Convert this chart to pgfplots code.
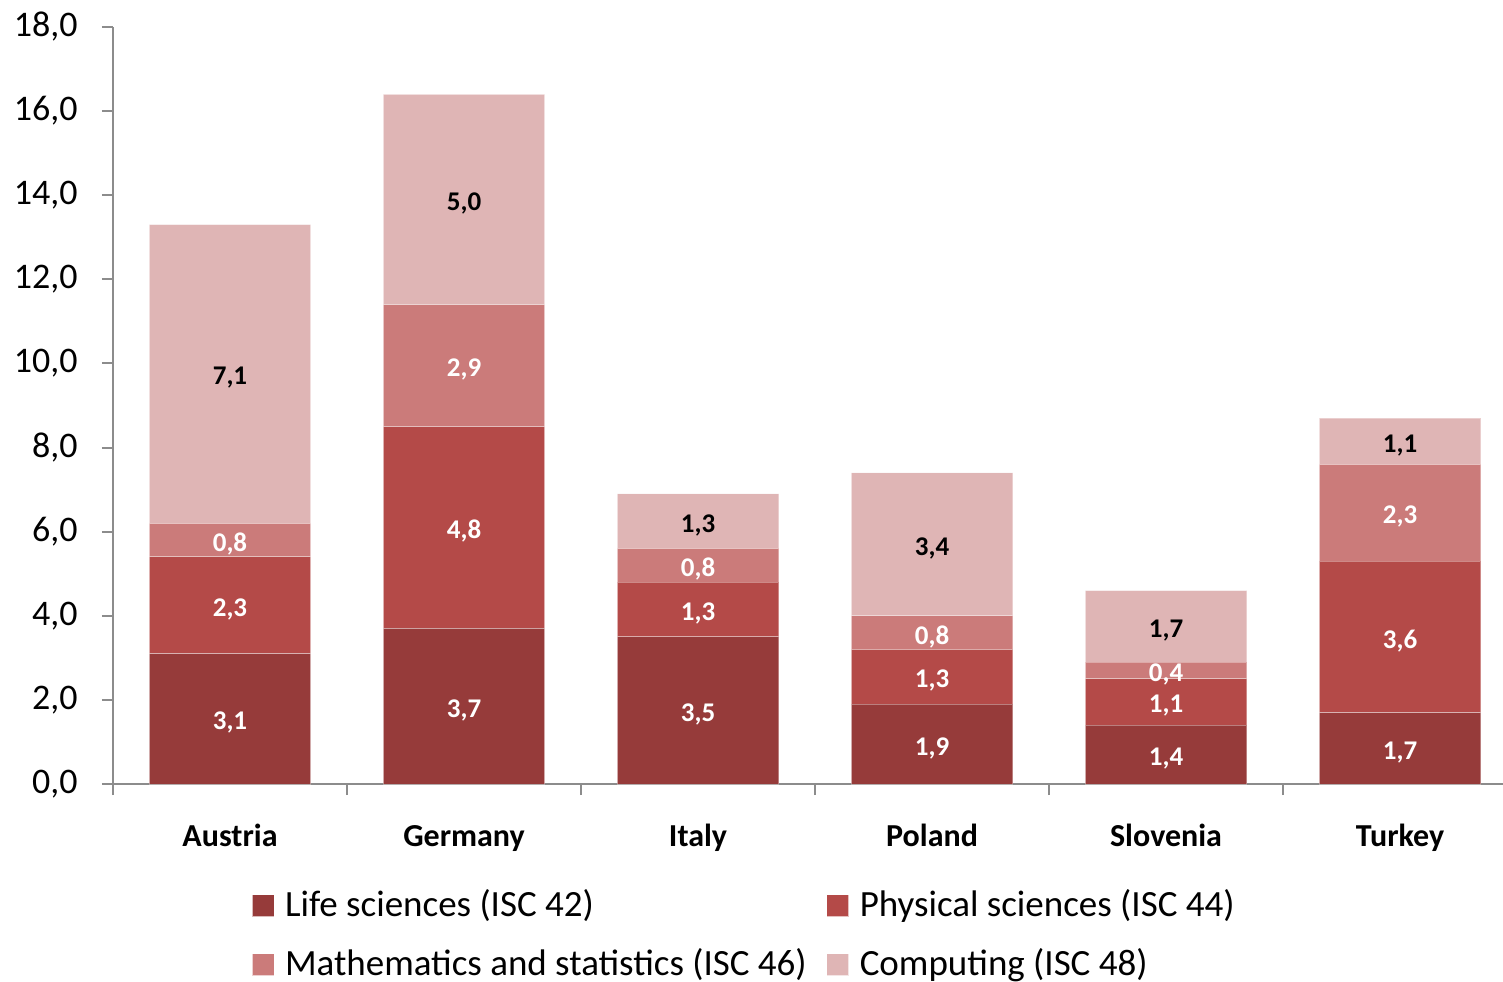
\documentclass[border=0pt]{standalone}
\usepackage{fontspec}
\setmainfont{Carlito}
\usepackage{pgfplots}
\pgfplotsset{compat=1.18}
\definecolor{c1}{HTML}{963B3A}
\definecolor{c2}{HTML}{B44A48}
\definecolor{c3}{HTML}{CB7B7A}
\definecolor{c4}{HTML}{DFB5B5}
\definecolor{axgray}{HTML}{8C8C8C}
\begin{document}
\begin{tikzpicture}
\useasboundingbox (-56.5pt,-98.5pt) rectangle (695pt,392pt);
\begin{axis}[
  at={(0pt,0pt)}, anchor=south west,
  scale only axis, width=695pt, height=378.5pt,
  xmin=-0.5, xmax=5.44, ymin=0, ymax=18,
  ybar stacked, bar width=0.69,
  axis x line*=bottom, axis y line*=left,
  axis line style={draw=axgray, line width=1pt, -},
  tick align=outside,
  major tick length=5.5pt, minor tick length=5.5pt,
  tick style={draw=axgray, line width=1pt},
  major x tick style={draw=none},
  xtick={0,...,5},
  xticklabels={Austria,Germany,Italy,Poland,Slovenia,Turkey},
  minor xtick={-0.5,0.5,1.5,2.5,3.5,4.5},
  ytick={0,2,...,18},
  xticklabel style={font=\fontsize{16}{19}\selectfont\bfseries, anchor=base, yshift=-25.5pt},
  yticklabel style={font=\fontsize{18}{21}\selectfont, anchor=east, inner sep=0pt, xshift=-12pt},
  /pgf/number format/use comma,
  /pgf/number format/fixed,
  /pgf/number format/fixed zerofill,
  /pgf/number format/precision=1,
  /pgf/number format/assume math mode=true,
  nodes near coords,
  every node near coord/.append style={font=\fontsize{13.5}{15}\selectfont\bfseries, anchor=center, yshift=-2pt},
  legend columns=2,
  legend style={draw=none, fill=none, inner sep=0pt, outer sep=0pt,
    at={(axis description cs:0.1,-0.1387)}, anchor=north west,
    font=\fontsize{18.5}{22}\selectfont,
    row sep=12pt,
    nodes={inner sep=0pt, text height=13.5pt, text depth=4pt},
    /tikz/every odd column/.append style={column sep=5.5pt},
    /tikz/every even column/.append style={column sep=10pt}},
  legend cell align=left,
]
\addplot[fill=c1, draw=white, draw opacity=0.35, line width=0.5pt, every node near coord/.append style={text=white},
  legend image code/.code={\fill[c1] (0pt,-4.75pt) rectangle (10.5pt,5.75pt);}]
  coordinates {(0,3.1) (1,3.7) (2,3.5) (3,1.9) (4,1.4) (5,1.7)};
\addplot[fill=c2, draw=white, draw opacity=0.35, line width=0.5pt, every node near coord/.append style={text=white},
  legend image code/.code={\fill[c2] (0pt,-4.75pt) rectangle (10.5pt,5.75pt);}]
  coordinates {(0,2.3) (1,4.8) (2,1.3) (3,1.3) (4,1.1) (5,3.6)};
\addplot[fill=c3, draw=white, draw opacity=0.35, line width=0.5pt, every node near coord/.append style={text=white},
  legend image code/.code={\fill[c3] (0pt,-4.75pt) rectangle (10.5pt,5.75pt);}]
  coordinates {(0,0.8) (1,2.9) (2,0.8) (3,0.8) (4,0.4) (5,2.3)};
\addplot[fill=c4, draw=white, draw opacity=0.35, line width=0.5pt, every node near coord/.append style={text=black},
  legend image code/.code={\fill[c4] (0pt,-4.75pt) rectangle (10.5pt,5.75pt);}]
  coordinates {(0,7.1) (1,5.0) (2,1.3) (3,3.4) (4,1.7) (5,1.1)};
\legend{Life sciences (ISC 42),Physical sciences (ISC 44),Mathematics and statistics (ISC 46),Computing (ISC 48)}
\end{axis}
\end{tikzpicture}
\end{document}
